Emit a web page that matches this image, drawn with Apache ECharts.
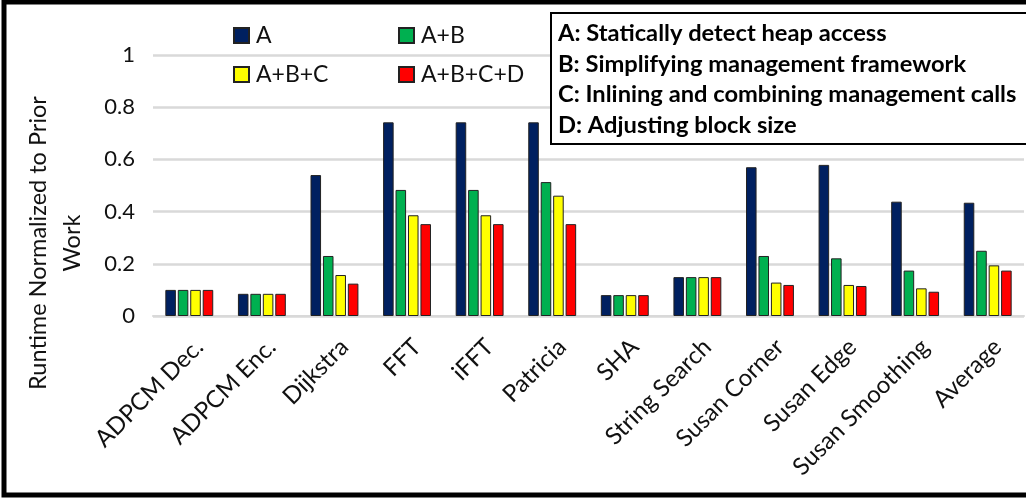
<!DOCTYPE html>
<html>
<head>
<meta charset="utf-8">
<script src="https://cdn.jsdelivr.net/npm/echarts@6/dist/echarts.min.js"></script>
<style>
html,body{margin:0;padding:0;background:#fff;}
#chart{width:1026px;height:501px;}
</style>
</head>
<body>
<div id="chart"></div>
<script>
const categories = ['ADPCM Dec.', 'ADPCM Enc.', 'Dijkstra', 'FFT', 'iFFT', 'Patricia', 'SHA', 'String Search', 'Susan Corner', 'Susan Edge', 'Susan Smoothing', 'Average'];
const seriesNames = ['A', 'A+B', 'A+B+C', 'A+B+C+D'];
const valuesA      = [0.10, 0.085, 0.54, 0.742, 0.742, 0.742, 0.08, 0.149, 0.57, 0.579, 0.438, 0.434];
const valuesAB     = [0.10, 0.085, 0.23, 0.483, 0.483, 0.513, 0.08, 0.149, 0.23, 0.221, 0.174, 0.25];
const valuesABC    = [0.10, 0.085, 0.157, 0.386, 0.386, 0.461, 0.08, 0.149, 0.128, 0.119, 0.106, 0.194];
const valuesABCD   = [0.10, 0.085, 0.124, 0.352, 0.352, 0.352, 0.08, 0.149, 0.119, 0.115, 0.093, 0.174];
const yTicks = [0, 0.2, 0.4, 0.6, 0.8, 1];
const notes = ['A: Statically detect heap access', 'B: Simplifying management framework', 'C: Inlining and combining management calls', 'D: Adjusting block size'];
const yTitle = 'Runtime Normalized to Prior\nWork';

const colors = ['#002060', '#00B050', '#FFFF00', '#FF0000'];
const allValues = [valuesA, valuesAB, valuesABC, valuesABCD];
const FONT = 'Lato';

const chart = echarts.init(document.getElementById('chart'), null, {renderer: 'canvas'});
const legendCommon = {
  orient: 'vertical', top: 19, itemWidth: 15, itemHeight: 15, itemGap: 16,
  textStyle: {fontFamily: FONT, fontSize: 23, color: '#111', padding: [0, 0, 0, 2]},
  icon: 'rect'
};
chart.setOption({
  animation: false,
  backgroundColor: '#fff',
  grid: {left: 153, right: 2, top: 55, bottom: 185, containLabel: false},
  legend: [
    Object.assign({left: 228, data: [seriesNames[0], seriesNames[2]]}, legendCommon),
    Object.assign({left: 393, data: [seriesNames[1], seriesNames[3]]}, legendCommon)
  ],
  xAxis: {
    type: 'category', data: categories,
    axisLine: {lineStyle: {color: '#d9d9d9', width: 2}},
    axisTick: {show: false},
    axisLabel: {interval: 0, rotate: 45, margin: 37, padding: [0, -14, 0, 0], fontFamily: FONT, fontSize: 24, color: '#111'}
  },
  yAxis: {
    type: 'value', min: 0, max: 1, interval: 0.2,
    axisLine: {show: false}, axisTick: {show: false},
    splitLine: {lineStyle: {color: '#d9d9d9', width: 2.5}},
    axisLabel: {margin: 18, fontFamily: FONT, fontSize: 22, color: '#111',
      formatter: v => { const t = yTicks.find(x => Math.abs(x - v) < 1e-9); return t === undefined ? '' : String(+t.toFixed(1)); }}
  },
  series: seriesNames.map((n, i) => ({
    name: n, type: 'bar', data: allValues[i],
    barGap: '18%', barCategoryGap: '34%',
    itemStyle: {color: colors[i], borderColor: '#222', borderWidth: 1}
  })),
  graphic: [
    {type: 'rect', z: 100, shape: {x: 4, y: 2, width: 1100, height: 493}, style: {fill: 'none', stroke: '#000', lineWidth: 5}},
    {type: 'rect', z: 50, shape: {x: 551, y: 13, width: 520, height: 131}, style: {fill: '#fff', stroke: '#000', lineWidth: 2}},
    {type: 'text', z: 51, left: 558, top: 18, style: {text: notes.join('\n'), font: 'bold 23.7px ' + FONT, lineHeight: 30.7, fill: '#000'}},
    {type: 'text', z: 51, x: 55, y: 243, rotation: Math.PI / 2,
      style: {text: yTitle, font: '23.5px ' + FONT, fill: '#111', align: 'center', verticalAlign: 'middle', lineHeight: 34}}
  ]
});
</script>
</body>
</html>
